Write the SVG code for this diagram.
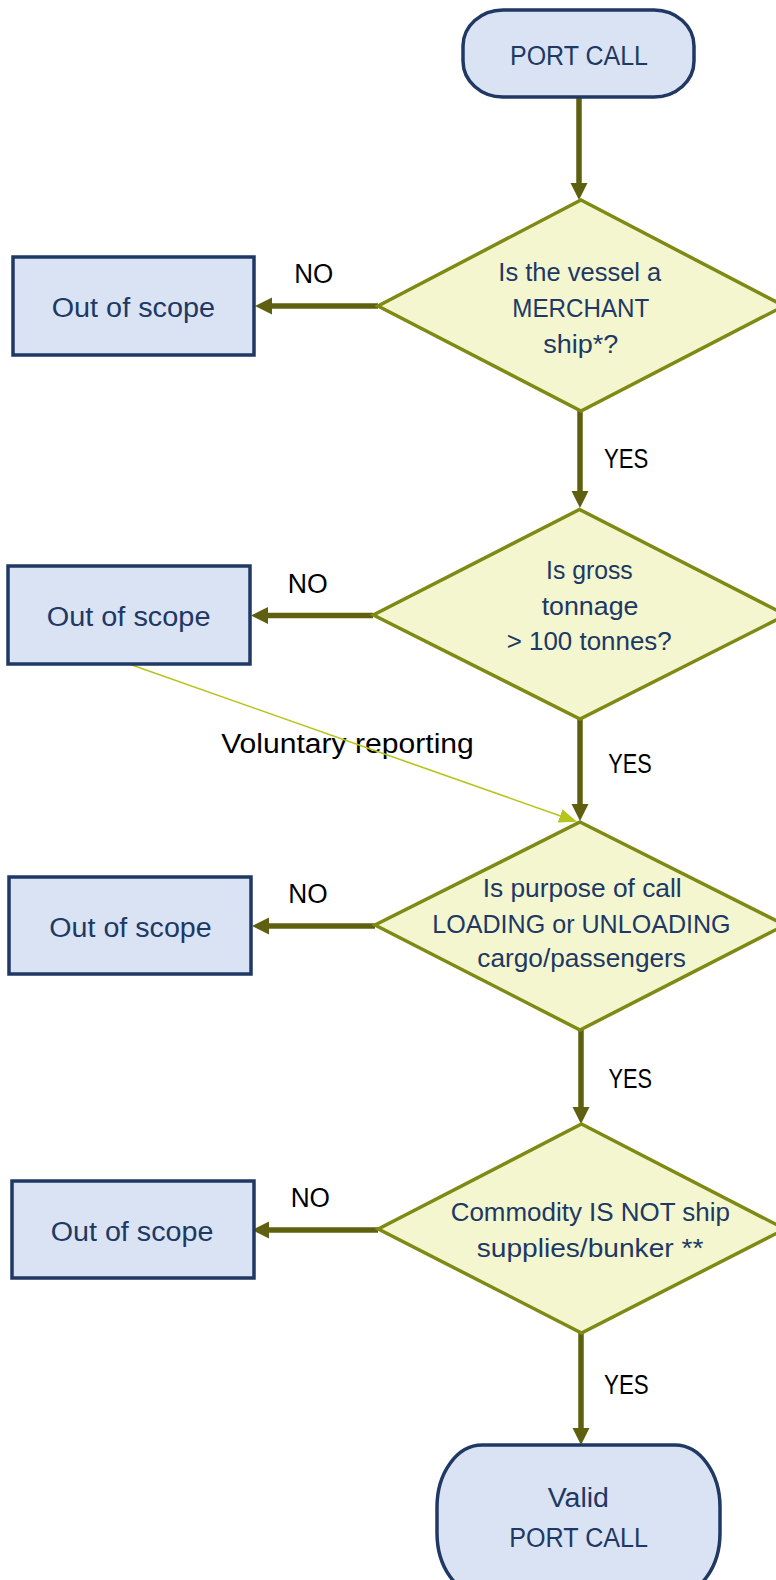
<svg xmlns="http://www.w3.org/2000/svg" width="776" height="1580" viewBox="0 0 776 1580">
<style>
.term{fill:#DAE3F3;stroke:#203864;stroke-width:3.5}
.box{fill:#DAE3F3;stroke:#203864;stroke-width:3.5}
.dec{fill:#F3F6CF;stroke:#7F8A14;stroke-width:3.5}
.nt{font-family:"Liberation Sans",Arial,sans-serif;font-size:27px;fill:#203864}
.dt{font-family:"Liberation Sans",Arial,sans-serif;font-size:25px;fill:#203864}
.lbl{font-family:"Liberation Sans",Arial,sans-serif;font-size:27px;fill:#000000}
.flow{stroke:#5F600F;stroke-width:5.5;fill:none;marker-end:url(#ah)}
.vol{stroke:#B7C41C;stroke-width:1.6;fill:none;marker-end:url(#ahv)}
</style>
<defs>
<marker id="ah" markerUnits="userSpaceOnUse" markerWidth="18" markerHeight="18" refX="2" refY="8.5" orient="auto" viewBox="0 0 18 17">
<path d="M0,0 L17,8.5 L0,17 z" fill="#5F600F"/>
</marker>
<marker id="ahv" markerUnits="userSpaceOnUse" markerWidth="19" markerHeight="15" refX="2" refY="7" orient="auto" viewBox="0 0 19 14">
<path d="M0,0 L18,7 L0,14 z" fill="#B7C41C"/>
</marker>
</defs>

<g id="labels">
<text class="lbl" x="294.3" y="283.3" textLength="39" lengthAdjust="spacingAndGlyphs">NO</text>
<text class="lbl" x="604" y="467.7" textLength="44.3" lengthAdjust="spacingAndGlyphs">YES</text>
<text class="lbl" x="287.8" y="592.7" textLength="40" lengthAdjust="spacingAndGlyphs">NO</text>
<text class="lbl" x="221.2" y="753.3" textLength="252.6" lengthAdjust="spacingAndGlyphs">Voluntary reporting</text>
<text class="lbl" x="608.3" y="773.3" textLength="43.4" lengthAdjust="spacingAndGlyphs">YES</text>
<text class="lbl" x="288.3" y="902.7" textLength="39.4" lengthAdjust="spacingAndGlyphs">NO</text>
<text class="lbl" x="608.5" y="1087.5" textLength="43.5" lengthAdjust="spacingAndGlyphs">YES</text>
<text class="lbl" x="290.7" y="1206.7" textLength="39.3" lengthAdjust="spacingAndGlyphs">NO</text>
<text class="lbl" x="604" y="1394.3" textLength="44.7" lengthAdjust="spacingAndGlyphs">YES</text>
</g>

<g id="connectors">
<line class="flow" x1="579" y1="97" x2="579" y2="185"/>
<line class="flow" x1="378" y1="306" x2="270" y2="306"/>
<line class="flow" x1="580" y1="411" x2="580" y2="493"/>
<line class="flow" x1="373" y1="615.5" x2="266" y2="615.5"/>
<line class="flow" x1="580" y1="719" x2="580" y2="806"/>
<line class="vol" x1="129" y1="664" x2="562" y2="816.5"/>
<line class="flow" x1="375" y1="926" x2="267" y2="926"/>
<line class="flow" x1="581" y1="1030" x2="581" y2="1109"/>
<line class="flow" x1="378" y1="1230" x2="267" y2="1230"/>
<line class="flow" x1="581" y1="1333" x2="581" y2="1430"/>
</g>

<g id="start">
<rect class="term" x="463" y="10" width="231" height="87" rx="40" ry="36"/>
<text class="nt" x="510" y="65" textLength="138" lengthAdjust="spacingAndGlyphs">PORT CALL</text>
</g>

<g id="q1">
<polygon class="dec" points="581,200 784,306 581,411 378,306"/>
<text class="dt" x="498.3" y="280.7" textLength="163" lengthAdjust="spacingAndGlyphs">Is the vessel a</text>
<text class="dt" x="512.3" y="316.7" textLength="137" lengthAdjust="spacingAndGlyphs">MERCHANT</text>
<text class="dt" x="543.3" y="352.7" textLength="75" lengthAdjust="spacingAndGlyphs">ship*?</text>
</g>

<g id="out1">
<rect class="box" x="13" y="257" width="241" height="98"/>
<text class="nt" x="51.7" y="317.3" textLength="163.3" lengthAdjust="spacingAndGlyphs">Out of scope</text>
</g>

<g id="q2">
<polygon class="dec" points="579.5,509.5 786,615 580,719 373.3,615"/>
<text class="dt" x="546" y="579" textLength="86.7" lengthAdjust="spacingAndGlyphs">Is gross</text>
<text class="dt" x="541.7" y="615" textLength="96.7" lengthAdjust="spacingAndGlyphs">tonnage</text>
<text class="dt" x="506.7" y="650" textLength="165" lengthAdjust="spacingAndGlyphs">&gt; 100 tonnes?</text>
</g>

<g id="out2">
<rect class="box" x="8" y="566" width="242" height="98"/>
<text class="nt" x="46.7" y="626" textLength="163.8" lengthAdjust="spacingAndGlyphs">Out of scope</text>
</g>

<g id="q3">
<polygon class="dec" points="580,822 785,925 580,1030 375,925"/>
<text class="dt" x="482.7" y="896.7" textLength="199" lengthAdjust="spacingAndGlyphs">Is purpose of call</text>
<text class="dt" x="432.3" y="932.7" textLength="298.3" lengthAdjust="spacingAndGlyphs">LOADING or UNLOADING</text>
<text class="dt" x="477.3" y="966.7" textLength="208.7" lengthAdjust="spacingAndGlyphs">cargo/passengers</text>
</g>

<g id="out3">
<rect class="box" x="9" y="877" width="242" height="97"/>
<text class="nt" x="49.3" y="936.7" textLength="162.4" lengthAdjust="spacingAndGlyphs">Out of scope</text>
</g>

<g id="q4">
<polygon class="dec" points="581.5,1124 785,1229 581.5,1333 378.3,1229"/>
<text class="dt" x="450.7" y="1220.7" textLength="279.3" lengthAdjust="spacingAndGlyphs">Commodity IS NOT ship</text>
<text class="dt" x="476.7" y="1256.7" textLength="226.7" lengthAdjust="spacingAndGlyphs">supplies/bunker **</text>
</g>

<g id="out4">
<rect class="box" x="12" y="1181" width="242" height="97"/>
<text class="nt" x="50.7" y="1241" textLength="162.7" lengthAdjust="spacingAndGlyphs">Out of scope</text>
</g>

<g id="end">
<rect class="term" x="437" y="1445" width="283" height="150" rx="45" ry="62"/>
<text class="nt" x="547.7" y="1506.7" textLength="61.3" lengthAdjust="spacingAndGlyphs">Valid</text>
<text class="nt" x="509.3" y="1547.3" textLength="138.7" lengthAdjust="spacingAndGlyphs">PORT CALL</text>
</g>
</svg>
